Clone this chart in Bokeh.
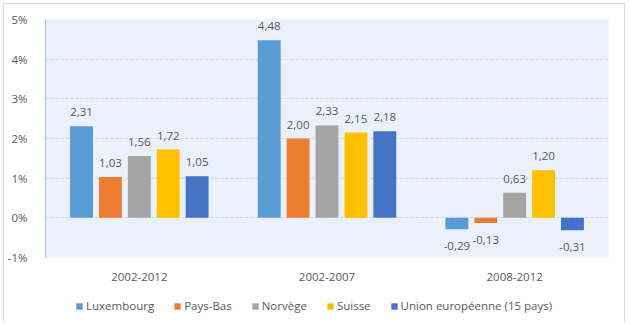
from bokeh.plotting import figure
from bokeh.layouts import column
from bokeh.models import ColumnDataSource, FactorRange, FixedTicker, Legend, LegendItem
from bokeh.transform import dodge
from bokeh.core.properties import value
from bokeh.embed import file_html
from bokeh.resources import INLINE

categories = ["2002-2012", "2002-2007", "2008-2012"]
series = ["Luxembourg", "Pays-Bas", "Norvège", "Suisse", "Union européenne (15 pays)"]
luxembourg = [2.31, 4.48, -0.29]
pays_bas = [1.03, 2.00, -0.13]
norvege = [1.56, 2.33, 0.63]
suisse = [1.72, 2.15, 1.20]
ue15 = [1.05, 2.18, -0.31]
y_ticks = [-1, 0, 1, 2, 3, 4, 5]
y_tick_labels = ["-1%", "0%", "1%", "2%", "3%", "4%", "5%"]

values_by_series = [luxembourg, pays_bas, norvege, suisse, ue15]
colors = ["#5B9BD5", "#ED7D31", "#A5A5A5", "#FFC000", "#4472C4"]
FONT = "Open Sans"
TXT = "#595959"

p = figure(x_range=FactorRange(factors=categories), y_range=(-1, 5),
           width=620, height=286, output_backend="svg", toolbar_location=None,
           min_border_left=40, min_border_right=16, min_border_top=15, min_border_bottom=33)

p.background_fill_color = "#EAF1FA"
p.border_fill_color = "white"
p.outline_line_color = None

step = 0.154
bar_w = 0.122
for i, (name, vals, col) in enumerate(zip(series, values_by_series, colors)):
    off = (i - 2) * step
    src = ColumnDataSource(dict(
        cat=categories,
        val=vals,
        lbl=[f"{v:.2f}".replace(".", ",") for v in vals],
        yoff=[-14 if v >= 0 else 17 for v in vals],
    ))
    p.vbar(x=dodge("cat", off, range=p.x_range), top="val", bottom=0, width=bar_w,
           source=src, fill_color=col, line_color=None)
    p.text(x=dodge("cat", off, range=p.x_range), y="val", text="lbl", source=src,
           y_offset="yoff", text_align="center", text_baseline="middle",
           text_font=value(FONT), text_font_size="11.5px", text_color=TXT)

p.yaxis.ticker = FixedTicker(ticks=y_ticks)
p.yaxis.major_label_overrides = {t: l for t, l in zip(y_ticks, y_tick_labels)}
p.yaxis.axis_line_color = "#9DC3E6"
p.yaxis.major_tick_line_color = None
p.yaxis.minor_tick_line_color = None
p.yaxis.major_label_standoff = 12
p.yaxis.major_label_text_font = FONT
p.yaxis.major_label_text_font_size = "11.5px"
p.yaxis.major_label_text_color = TXT

p.xaxis.axis_line_color = None
p.xaxis.major_tick_line_color = None
p.xaxis.minor_tick_line_color = None
p.xaxis.major_label_standoff = 9
p.xaxis.major_label_text_font = FONT
p.xaxis.major_label_text_font_size = "11.5px"
p.xaxis.major_label_text_color = TXT

p.xgrid.grid_line_color = None
p.ygrid.grid_line_color = "#D0D7E0"
p.ygrid.grid_line_dash = "3 2"

# legend strip
lf = figure(width=620, height=32, x_range=(0, 1), y_range=(0, 1),
            x_axis_location=None, y_axis_location=None,
            output_backend="svg", toolbar_location=None, min_border=0)
lf.grid.grid_line_color = None
lf.outline_line_color = None
lf.border_fill_color = "white"
lf.background_fill_color = "white"
items = []
for name, col in zip(series, colors):
    r = lf.vbar(x=[-5], top=[-5], bottom=[-6], width=0.1, fill_color=col, line_color=None)
    items.append(LegendItem(label=name, renderers=[r]))
legend = Legend(items=items, orientation="horizontal", location=(30, 9),
                glyph_width=8, glyph_height=8, label_standoff=3, spacing=19,
                padding=0, margin=0, border_line_color=None, background_fill_alpha=0,
                label_text_font=FONT, label_text_font_size="11.5px", label_text_color=TXT)
lf.add_layout(legend)

layout = column(p, lf, spacing=0,
                styles={"margin-left": "3px", "margin-top": "3px",
                        "border-left": "1px solid #D9D9D9", "border-top": "1px solid #D9D9D9",
                        "border-right": "1px solid #D9D9D9"})

open("out.html", "w").write(file_html(layout, INLINE))
